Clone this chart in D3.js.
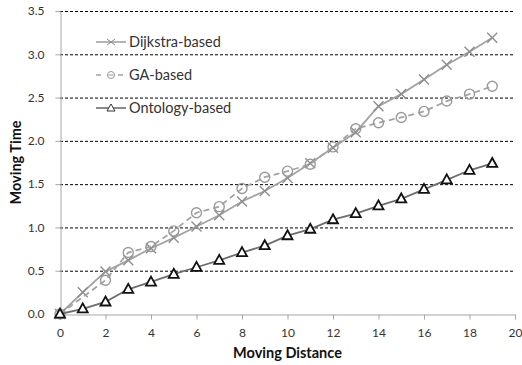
<!DOCTYPE html>
<html>
<head>
<meta charset="utf-8">
<script src="https://cdn.jsdelivr.net/npm/d3@7"></script>
<style>
  html, body { margin: 0; padding: 0; background: #fff; }
  svg { display: block; font-family: Lato, "Open Sans", sans-serif; }
</style>
</head>
<body>
<svg id="chart" width="522" height="365"></svg>
<script>
// Moving distance (x) and moving time (y) for three path-planning methods
const distances = [0, 1, 2, 3, 4, 5, 6, 7, 8, 9, 10, 11, 12, 13, 14, 15, 16, 17, 18, 19];
const dijkstra = [0, 0.25, 0.49, 0.62, 0.76, 0.88, 1.01, 1.14, 1.30, 1.42, 1.57, 1.74, 1.92, 2.10, 2.40, 2.54, 2.71, 2.88, 3.03, 3.19];
const gaBased = [0, null, 0.39, 0.71, 0.78, 0.96, 1.17, 1.24, 1.45, 1.58, 1.65, 1.73, 1.93, 2.14, 2.21, 2.27, 2.34, 2.46, 2.54, 2.63];
const ontology = [0, 0.06, 0.14, 0.285, 0.37, 0.46, 0.54, 0.62, 0.71, 0.79, 0.905, 0.98, 1.09, 1.16, 1.25, 1.33, 1.44, 1.55, 1.66, 1.74];
const seriesNames = ["Dijkstra-based", "GA-based", "Ontology-based"];
const xTicks = [0, 2, 4, 6, 8, 10, 12, 14, 16, 18, 20];
const yTicks = [0, 0.5, 1.0, 1.5, 2.0, 2.5, 3.0, 3.5];

const svg = d3.select("#chart");
const plotLeft = 60, plotRight = 515, plotTop = 11, plotBottom = 314;

const x = d3.scaleLinear().domain([0, 20]).range([plotLeft, plotRight]);
const y = d3.scaleLinear().domain([0, 3.5]).range([plotBottom, plotTop]);

// dashed horizontal gridlines
svg.append("g").selectAll("line")
  .data(yTicks.filter(d => d > 0))
  .join("line")
  .attr("x1", plotLeft).attr("x2", plotRight)
  .attr("y1", d => y(d) + 0.5).attr("y2", d => y(d) + 0.5)
  .attr("stroke", "#000").attr("stroke-width", 1)
  .attr("stroke-dasharray", "3,2");

// axes
const axisColor = "#a6a6a6";
const xAxis = svg.append("g")
  .attr("transform", `translate(0,${plotBottom + 0.5})`)
  .call(d3.axisBottom(x).tickValues(xTicks).tickFormat(d3.format("d")).tickSize(5).tickSizeOuter(0).tickPadding(7));
const yAxis = svg.append("g")
  .attr("transform", `translate(${plotLeft + 0.5},0)`)
  .call(d3.axisLeft(y).tickValues(yTicks).tickFormat(d3.format(".1f")).tickSize(5).tickSizeOuter(0).tickPadding(11));
[xAxis, yAxis].forEach(a => {
  a.select(".domain").attr("stroke", axisColor);
  a.selectAll(".tick line").attr("stroke", axisColor);
  a.selectAll(".tick text").attr("fill", "#333").attr("font-size", 12)
    .attr("font-family", "Lato, 'Open Sans', sans-serif");
});
xAxis.selectAll(".tick text").attr("dy", "0.9em");

// axis titles
svg.append("text")
  .attr("x", (plotLeft + plotRight) / 2).attr("y", 358)
  .attr("text-anchor", "middle").attr("font-weight", "bold").attr("font-size", 14.5)
  .attr("fill", "#111").text("Moving Distance");
svg.append("text")
  .attr("transform", `translate(21,${(plotTop + plotBottom) / 2}) rotate(-90)`)
  .attr("text-anchor", "middle").attr("font-weight", "bold").attr("font-size", 14.5)
  .attr("fill", "#111").text("Moving Time");

// series
const series = [
  { name: seriesNames[0], values: dijkstra, color: "#a3a3a3", dash: null, marker: "cross", mcolor: "#8c8c8c" },
  { name: seriesNames[1], values: gaBased, color: "#a3a3a3", dash: "6,4", marker: "circle", mcolor: "#9a9a9a" },
  { name: seriesNames[2], values: ontology, color: "#6e6e6e", dash: null, marker: "triangle", mcolor: "#111" }
];

const line = d3.line().x(d => x(d[0])).y(d => y(d[1]));

function drawMarker(g, type, cx, cy, color, r) {
  if (type === "cross") {
    g.append("path")
      .attr("d", `M${cx - r},${cy - r}L${cx + r},${cy + r}M${cx - r},${cy + r}L${cx + r},${cy - r}`)
      .attr("stroke", color).attr("stroke-width", 1.4).attr("fill", "none");
  } else if (type === "circle") {
    g.append("circle").attr("cx", cx).attr("cy", cy).attr("r", r)
      .attr("stroke", color).attr("stroke-width", 1.4).attr("fill", "none");
  } else {
    const h = r * 1.8;
    g.append("path")
      .attr("d", `M${cx},${cy - h * 0.6}L${cx + r},${cy + h * 0.4}L${cx - r},${cy + h * 0.4}Z`)
      .attr("stroke", color).attr("stroke-width", 1.8).attr("fill", "#fff");
  }
}

series.forEach(s => {
  const pts = distances.map((d, i) => [d, s.values[i]]).filter(p => p[1] !== null);
  const g = svg.append("g");
  g.append("path")
    .attr("d", line(pts))
    .attr("fill", "none").attr("stroke", s.color).attr("stroke-width", 1.8)
    .attr("stroke-dasharray", s.dash);
  pts.forEach(p => drawMarker(g, s.marker, x(p[0]), y(p[1]), s.mcolor, 5));
});

// legend
const legend = svg.append("g");
const legendY = [42, 75, 108];
series.forEach((s, i) => {
  const ly = legendY[i];
  legend.append("line")
    .attr("x1", 96).attr("x2", 126).attr("y1", ly).attr("y2", ly)
    .attr("stroke", s.color).attr("stroke-width", 1.6)
    .attr("stroke-dasharray", s.dash ? "5,6" : null);
  if (s.marker === "circle") {
    legend.append("circle").attr("cx", 111).attr("cy", ly).attr("r", 3.5)
      .attr("stroke", s.mcolor).attr("stroke-width", 1).attr("fill", "#fff");
    legend.append("line").attr("x1", 108.5).attr("x2", 113.5).attr("y1", ly).attr("y2", ly)
      .attr("stroke", s.mcolor).attr("stroke-width", 1);
  } else if (s.marker === "cross") {
    legend.append("path")
      .attr("d", `M107,${ly - 3}L115,${ly + 3}M107,${ly + 3}L115,${ly - 3}`)
      .attr("stroke", s.mcolor).attr("stroke-width", 1).attr("fill", "none");
  } else {
    legend.append("path")
      .attr("d", `M111,${ly - 4}L115,${ly + 3}L107,${ly + 3}Z`)
      .attr("stroke", "#333").attr("stroke-width", 1).attr("fill", "#fff");
  }
  legend.append("text")
    .attr("x", 129).attr("y", ly).attr("dy", "0.35em")
    .attr("font-size", 14.5).attr("fill", "#333").text(s.name);
});
</script>
</body>
</html>
